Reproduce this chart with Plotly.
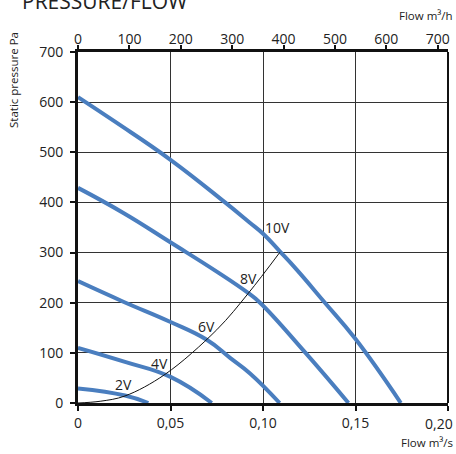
import plotly.graph_objects as go

# ---- data ----
q_10v = [0, 0.02, 0.05, 0.0795, 0.0924, 0.1002, 0.1092, 0.1182, 0.1330, 0.1497, 0.1745]
p_10v = [610, 561, 485, 400, 361, 337, 302, 266, 202, 129, 0]

q_8v = [0, 0.025, 0.0497, 0.075, 0.0921, 0.0984, 0.1230, 0.1462]
p_8v = [429, 378, 321, 262, 219, 200, 100, 0]

q_6v = [0, 0.0245, 0.0497, 0.0696, 0.0822, 0.093, 0.109]
p_6v = [243, 202, 162, 126, 90, 59, 0]

q_4v = [0, 0.0254, 0.05, 0.0723]
p_4v = [110, 82, 52, 0]

q_2v = [0, 0.0254, 0.038]
p_2v = [29, 15, 0]

q_sys = [0, 0.012, 0.0254, 0.047, 0.075, 0.0921, 0.1092]
p_sys = [0, 3.5, 14, 57, 146, 219, 301]

curve_labels = ["10V", "8V", "6V", "4V", "2V"]
label_q = [0.1076, 0.0921, 0.0696, 0.0443, 0.0245]
label_p = [350, 249, 152, 79, 36]

x_ticks = [0, 0.05, 0.10, 0.15, 0.20]
x_ticktext = ["0", "0,05", "0,10", "0,15", ""]
last_x_label = "0,20"
y_ticks = [0, 100, 200, 300, 400, 500, 600, 700]
top_ticks = [0, 100, 200, 300, 400, 500, 600, 700]

BLUE = "#4a7ebf"
FONT = "Open Sans"
TXT = "#222"

fig = go.Figure()
for q, p in [(q_10v, p_10v), (q_8v, p_8v), (q_6v, p_6v), (q_4v, p_4v), (q_2v, p_2v)]:
    fig.add_trace(go.Scatter(x=q, y=p, mode="lines",
                             line=dict(color=BLUE, width=4, shape="spline", smoothing=1.3),
                             showlegend=False, hoverinfo="skip"))
fig.add_trace(go.Scatter(x=q_sys, y=p_sys, mode="lines",
                         line=dict(color="#111", width=1, shape="spline", smoothing=1.0),
                         showlegend=False, hoverinfo="skip"))
# invisible trace on top axis so it's drawn
fig.add_trace(go.Scatter(x=[0, 720], y=[0, 0], xaxis="x2", mode="lines",
                         line=dict(width=0), opacity=0, showlegend=False, hoverinfo="skip"))

for t, xq, yp in zip(curve_labels, label_q, label_p):
    fig.add_annotation(x=xq, y=yp, xref="x", yref="y", text=t, showarrow=False,
                       font=dict(family=FONT, size=14, color=TXT))

axis_common = dict(showline=True, linecolor="#111", linewidth=3,
                   ticks="outside", tickwidth=2, tickcolor="#111",
                   zeroline=False, automargin=False, tickfont=dict(family=FONT, size=14, color=TXT))

fig.update_layout(
    width=456, height=454,
    margin=dict(l=78, r=8, t=52, b=51),
    paper_bgcolor="white", plot_bgcolor="white",
    font=dict(family=FONT, size=14, color=TXT),
    xaxis=dict(range=[0, 0.2], tickvals=x_ticks, ticktext=x_ticktext, ticklen=5,
               showgrid=True, gridcolor="#333", gridwidth=1, **axis_common),
    xaxis2=dict(range=[0, 720], overlaying="x", side="top", tickvals=top_ticks, ticklen=4,
                ticklabelstandoff=-5, showgrid=False, **axis_common),
    yaxis=dict(range=[0, 700], tickvals=y_ticks, showgrid=True, gridcolor="#333", gridwidth=1,
               ticklen=5, ticklabelstandoff=4, **axis_common),
)

# right border
fig.add_shape(type="line", xref="x domain", yref="y domain", x0=1, x1=1, y0=0, y1=1,
              line=dict(color="#111", width=2))

# last bottom tick label, kept inside the figure as in the reference
fig.add_annotation(x=(455 - 78) / 370, y=(403 - 423) / 351, xref="paper", yref="paper",
                   xanchor="right", yanchor="middle", text=last_x_label, showarrow=False,
                   font=dict(family=FONT, size=14, color=TXT))

# title and axis captions (paper coords relative to plot area)
fig.add_annotation(x=(20 - 78) / 370, y=(403 - 1) / 351, xref="paper", yref="paper",
                   xanchor="left", yanchor="middle", text="PRESSURE/FLOW", showarrow=False,
                   font=dict(family=FONT, size=21, color=TXT))
fig.add_annotation(x=(455 - 78) / 370, y=(403 - 16) / 351, xref="paper", yref="paper",
                   xanchor="right", yanchor="middle", text="Flow m³/h", showarrow=False,
                   font=dict(family=FONT, size=11.5, color=TXT))
fig.add_annotation(x=(455 - 78) / 370, y=(403 - 443) / 351, xref="paper", yref="paper",
                   xanchor="right", yanchor="middle", text="Flow m³/s", showarrow=False,
                   font=dict(family=FONT, size=11.5, color=TXT))
fig.add_annotation(x=(13 - 78) / 370, y=(403 - 80) / 351, xref="paper", yref="paper",
                   xanchor="center", yanchor="middle", text="Static pressure Pa", textangle=-90,
                   showarrow=False, font=dict(family=FONT, size=11.5, color=TXT))

fig.write_html("out.html", config={"displayModeBar": False},
               post_script="document.body.style.margin='0';")
